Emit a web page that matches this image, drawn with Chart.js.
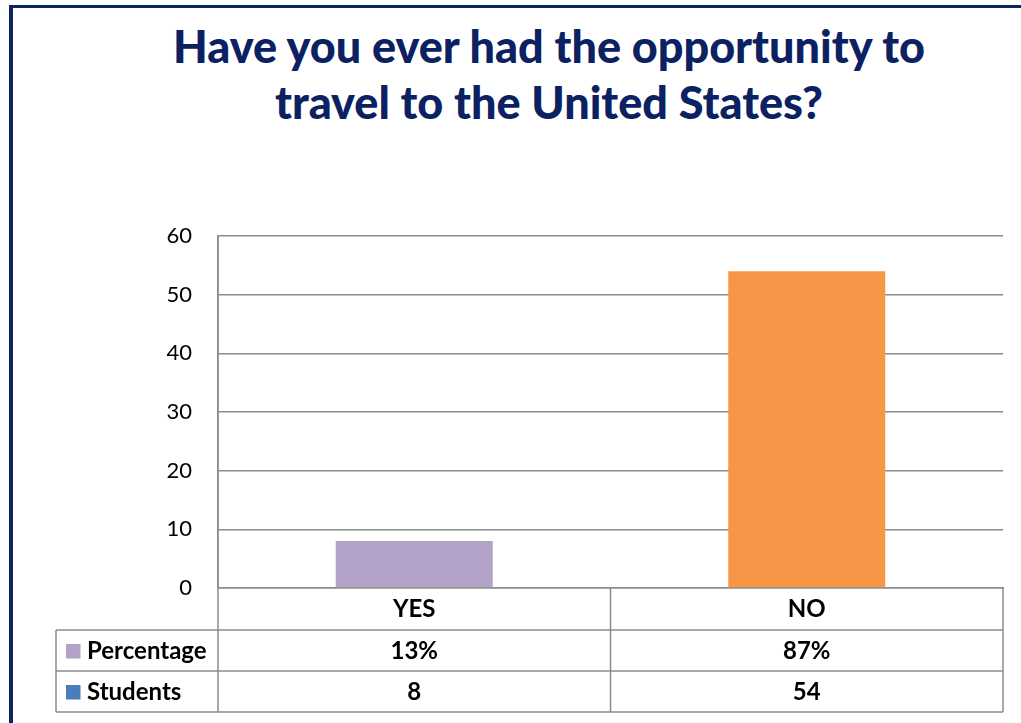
<!DOCTYPE html>
<html>
<head>
<meta charset="utf-8">
<script src="https://cdn.jsdelivr.net/npm/chart.js@4.4.1/dist/chart.umd.min.js"></script>
<style>
    html, body { margin: 0; padding: 0; background: #fff; overflow: hidden; }
    body { width: 1021px; height: 723px; position: relative; font-family: Lato, sans-serif; }
    .frame {
        position: absolute; left: 9px; top: 5px; width: 1200px; height: 900px;
        border-left: 4px solid #0c2461; border-top: 3.5px solid #0c2461;
    }
    .title {
        position: absolute; left: 0; top: 18px; width: 1098px; margin: 0;
        text-align: center; font: 900 45px/56px Lato, sans-serif; color: #0b2161;
    }
    #barChart { position: absolute; left: 0; top: 0; }
</style>
</head>
<body>
<div class="frame"></div>
<h1 class="title">Have you ever had the opportunity to<br>travel to the United States?</h1>
<canvas id="barChart" width="1021" height="723"></canvas>

<script>
    /* Chart data */
    const labels = ['YES', 'NO'];
    const students = [8, 54];
    const percentage = ['13%', '87%'];
    const yTicks = [0, 10, 20, 30, 40, 50, 60];

    const barColors = ['#b3a2c7', '#f79646'];
    const gridColor = '#8c8c8c';

    Chart.defaults.font.family = 'Lato, sans-serif';
    Chart.defaults.color = '#000';

    // data table under the x axis (series rows with legend keys)
    const dataTable = {
        id: 'dataTable',
        afterDraw(chart) {
            const ctx = chart.ctx;
            const area = chart.chartArea;
            const x = chart.scales.x;
            const rowH = 41;
            const tableLeft = 56;
            const top = x.bottom;
            const rows = [
                { name: 'Percentage', color: '#b3a2c7', values: percentage },
                { name: 'Students', color: '#4a7ebb', values: students }
            ];
            const half = (x.getPixelForValue(1) - x.getPixelForValue(0)) / 2;

            ctx.save();
            ctx.strokeStyle = gridColor;
            ctx.lineWidth = 1.5;
            ctx.beginPath();
            // horizontal rules
            for (let i = 0; i <= rows.length; i++) {
                const y = top + i * rowH;
                ctx.moveTo(tableLeft, y);
                ctx.lineTo(area.right, y);
            }
            // vertical rules
            const bottom = top + rows.length * rowH;
            ctx.moveTo(tableLeft, top);
            ctx.lineTo(tableLeft, bottom);
            ctx.moveTo(area.left, area.top);
            ctx.lineTo(area.left, bottom);
            labels.forEach((l, i) => {
                const xr = x.getPixelForValue(i) + half;
                ctx.moveTo(xr, area.bottom);
                ctx.lineTo(xr, bottom);
            });
            ctx.stroke();

            ctx.font = 'bold 24px Lato, sans-serif';
            ctx.textBaseline = 'middle';
            rows.forEach((row, r) => {
                const cy = top + r * rowH + rowH / 2 + 1;
                ctx.fillStyle = row.color;
                ctx.fillRect(66, cy - 7.5, 14.5, 14.5);
                ctx.fillStyle = '#000';
                ctx.textAlign = 'left';
                ctx.fillText(row.name, 87, cy);
                ctx.textAlign = 'center';
                row.values.forEach((v, i) => {
                    ctx.fillText(String(v), x.getPixelForValue(i), cy);
                });
            });
            ctx.restore();
        }
    };

    new Chart(document.getElementById('barChart'), {
        type: 'bar',
        data: {
            labels: labels,
            datasets: [{
                label: 'Students',
                data: students,
                backgroundColor: barColors,
                borderWidth: 0,
                barPercentage: 0.8,
                categoryPercentage: 0.5
            }]
        },
        options: {
            responsive: false,
            animation: false,
            devicePixelRatio: 1,
            layout: { padding: { left: 0, right: 18, top: 236, bottom: 93 } },
            plugins: {
                legend: { display: false },
                tooltip: { enabled: false }
            },
            scales: {
                x: {
                    grid: { display: false, drawTicks: false },
                    border: { display: true, color: gridColor, width: 1.5 },
                    ticks: { font: { size: 24, weight: 'bold' }, padding: 7, color: '#000' },
                    afterFit(axis) { axis.height = 42; }
                },
                y: {
                    min: 0,
                    max: 60,
                    afterBuildTicks(axis) { axis.ticks = yTicks.map(v => ({ value: v })); },
                    grid: { color: gridColor, lineWidth: 1.5, drawTicks: false },
                    border: { display: true, color: gridColor, width: 1.5 },
                    ticks: { font: { size: 22 }, padding: 26, color: '#000' },
                    afterFit(axis) { axis.width = 218; }
                }
            }
        },
        plugins: [dataTable]
    });
</script>
</body>
</html>
